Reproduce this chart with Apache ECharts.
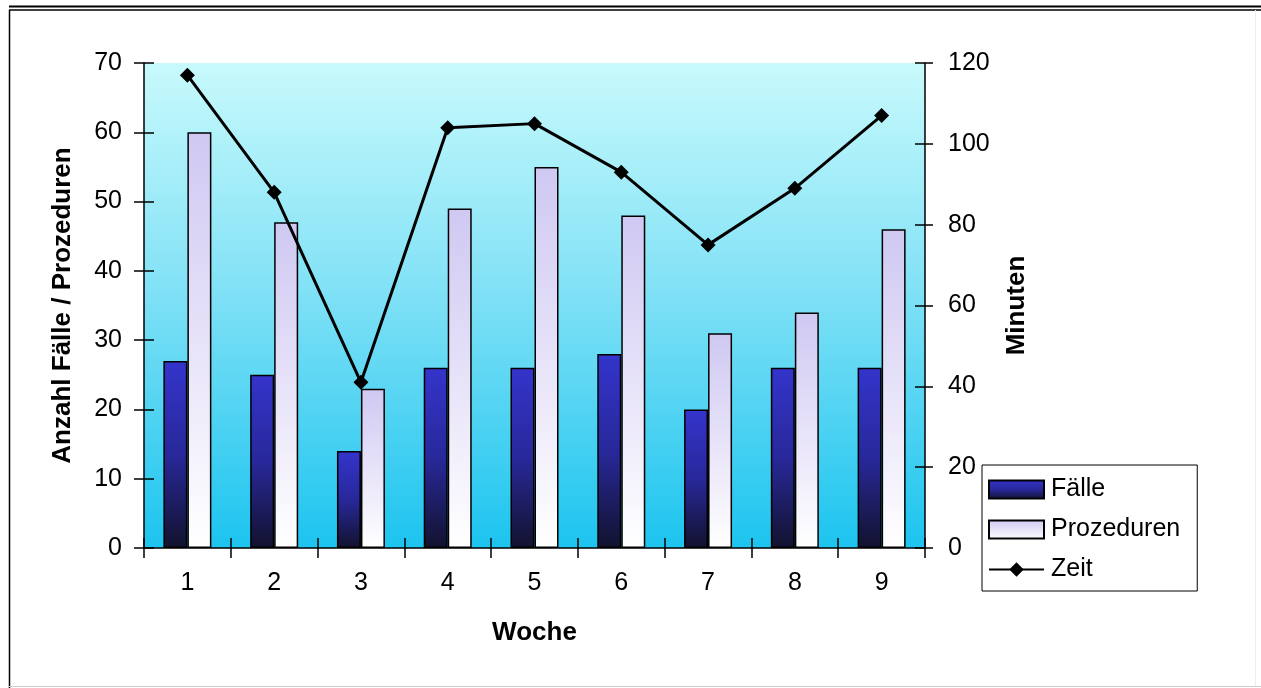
<!DOCTYPE html>
<html>
<head>
<meta charset="utf-8">
<script src="https://cdn.jsdelivr.net/npm/echarts@6/dist/echarts.min.js"></script>
<style>
html,body{margin:0;padding:0;background:#fff;}
#c{width:1261px;height:688px;}
</style>
</head>
<body>
<div id="c"></div>
<script>
const categories = ['1','2','3','4','5','6','7','8','9'];
const faelle = [27, 25, 14, 26, 26, 28, 20, 26, 26];
const prozeduren = [60, 47, 23, 49, 55, 48, 31, 34, 46];
const zeit = [117, 88, 41, 104, 105, 93, 75, 89, 107];

const FONT = '"Liberation Sans", Arial, sans-serif';
const chart = echarts.init(document.getElementById('c'));

const G = {left:144, right:336, top:63, bottom:140};
const TICK = {color:'#000', width:1.5};

chart.setOption({
  animation:false,
  textStyle:{fontFamily:FONT},
  grid:[
    Object.assign({show:true, borderWidth:0,
      backgroundColor:new echarts.graphic.LinearGradient(0,0,0,1,[
        {offset:0, color:'#c8fafc'},
        {offset:0.45, color:'#84e2f6'},
        {offset:1, color:'#1cc4ef'}])}, G),
    Object.assign({show:false}, G)
  ],
  graphic:[
    {type:'line', shape:{x1:9,y1:6.5,x2:1261,y2:6.5}, style:{stroke:'#000', lineWidth:2}},
    {type:'line', shape:{x1:9,y1:10,x2:1261,y2:10}, style:{stroke:'#000', lineWidth:1.5}},
    {type:'line', shape:{x1:9.5,y1:10,x2:9.5,y2:688}, style:{stroke:'#000', lineWidth:1.5}},
    {type:'line', shape:{x1:9,y1:686.5,x2:1261,y2:686.5}, style:{stroke:'#ccc', lineWidth:1}},
    {type:'line', shape:{x1:1255.5,y1:10,x2:1255.5,y2:686}, style:{stroke:'#eee', lineWidth:1}}
  ],
  legend:{
    orient:'vertical', left:982, top:465, width:210,
    backgroundColor:'#fff', borderColor:'#000', borderWidth:1,
    padding:[12,17,9,6], itemWidth:55, itemHeight:18, itemGap:15,
    textStyle:{fontFamily:FONT, fontSize:25, color:'#000', padding:[0,0,0,2]},
    data:[{name:'Fälle', icon:'rect'},{name:'Prozeduren', icon:'rect'},{name:'Zeit'}]
  },
  xAxis:[
    {type:'category', gridIndex:0, data:categories, boundaryGap:true,
     name:'Woche', nameLocation:'middle', nameGap:72,
     nameTextStyle:{fontFamily:FONT, fontSize:26, fontWeight:'bold', color:'#000'},
     axisLine:{lineStyle:{color:'#000', width:1.5}},
     axisTick:{show:true, length:10, lineStyle:TICK},
     axisLabel:{margin:23, fontFamily:FONT, fontSize:25, color:'#000'}},
    {type:'category', gridIndex:1, data:categories, boundaryGap:true, position:'bottom',
     axisLine:{show:false}, axisTick:{show:true, inside:true, length:10, lineStyle:TICK},
     axisLabel:{show:false}}
  ],
  yAxis:[
    {type:'value', gridIndex:0, min:0, max:70, interval:10, position:'left',
     name:'Anzahl Fälle / Prozeduren', nameLocation:'middle', nameGap:68, nameRotate:90,
     nameTextStyle:{fontFamily:FONT, fontSize:26, fontWeight:'bold', color:'#000'},
     axisLine:{show:true, lineStyle:{color:'#000', width:1.5}},
     axisTick:{show:true, length:10, lineStyle:TICK},
     splitLine:{show:false},
     axisLabel:{margin:22, fontFamily:FONT, fontSize:25, color:'#000'}},
    {type:'value', gridIndex:0, min:0, max:120, interval:20, position:'right',
     name:'Minuten', nameLocation:'middle', nameGap:79, nameRotate:90,
     nameTextStyle:{fontFamily:FONT, fontSize:26, fontWeight:'bold', color:'#000'},
     axisLine:{show:true, lineStyle:{color:'#000', width:1.5}},
     axisTick:{show:true, length:8, lineStyle:TICK},
     splitLine:{show:false},
     axisLabel:{margin:23, fontFamily:FONT, fontSize:25, color:'#000'}},
    {type:'value', gridIndex:1, min:0, max:70, interval:10, position:'left',
     axisLine:{show:false}, splitLine:{show:false}, axisLabel:{show:false},
     axisTick:{show:true, inside:true, length:10, lineStyle:TICK}},
    {type:'value', gridIndex:1, min:0, max:120, interval:20, position:'right',
     axisLine:{show:false}, splitLine:{show:false}, axisLabel:{show:false},
     axisTick:{show:true, inside:true, length:10, lineStyle:TICK}}
  ],
  series:[
    {name:'Fälle', type:'bar', data:faelle, xAxisIndex:0, yAxisIndex:0,
     barWidth:24, barGap:'0%',
     itemStyle:{borderColor:'#000', borderWidth:1.5,
       color:new echarts.graphic.LinearGradient(0,0,0,1,[
         {offset:0, color:'#3434cc'},
         {offset:0.5, color:'#28289a'},
         {offset:1, color:'#12122e'}])}},
    {name:'Prozeduren', type:'bar', data:prozeduren, xAxisIndex:0, yAxisIndex:0,
     barWidth:24, barGap:'0%',
     itemStyle:{borderColor:'#000', borderWidth:1.5,
       color:new echarts.graphic.LinearGradient(0,0,0,1,[
         {offset:0, color:'#cfc8f2'},
         {offset:0.6, color:'#ece8fa'},
         {offset:1, color:'#ffffff'}])}},
    {name:'Zeit', type:'line', data:zeit, xAxisIndex:0, yAxisIndex:1,
     symbol:'diamond', symbolSize:15, z:5,
     lineStyle:{color:'#000', width:3},
     itemStyle:{color:'#000'}}
  ]
});
</script>
</body>
</html>
